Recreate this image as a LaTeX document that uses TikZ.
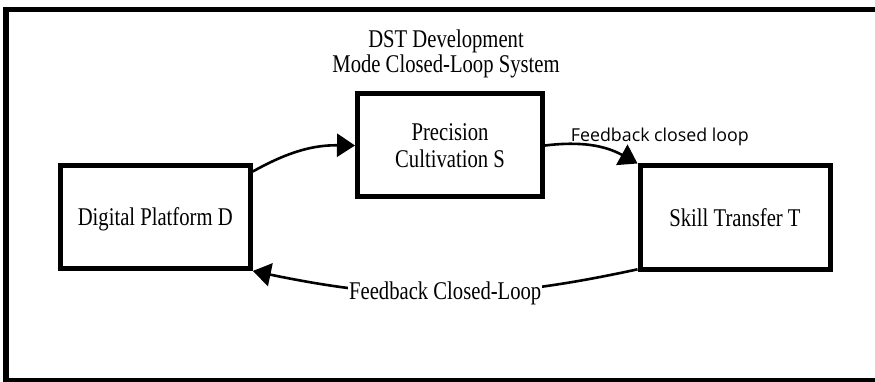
\documentclass[tikz,border=0pt]{standalone}
\usepackage{fontspec}
\setmainfont{Liberation Serif}[FakeStretch=0.81]
\newfontfamily\labelsans{Open Sans}
\usetikzlibrary{arrows.meta}
\tikzset{node distance=2.5cm, auto,
  block/.style={draw, line width=5pt, minimum width=190pt, minimum height=103pt,
    align=center, text depth=0pt, inner sep=0pt, font=\fontsize{25.5}{26.5}\selectfont},
  fbarrow/.style={line width=2.6pt, -{Triangle[length=18pt,width=23pt]}}}

\begin{document}
\begin{tikzpicture}[x=1pt, y=-1pt]
                \useasboundingbox (0,0) rectangle (875,382);
                \clip (0,0) rectangle (875,382);
                \draw[line width=5.5pt] (6,9.7) rectangle (880,380.5);
                \node (title) at (446,54) [align=center, inner sep=0pt,
                  font=\fontsize{25.5}{25}\selectfont] {DST Development\\Mode Closed-Loop System};
                \node[block] (D) at (155.25,217) {Digital Platform D};
                \node[block, minimum width=185pt] (S) at (450,145.5) {Precision\\Cultivation S};
                \node[block] (T) at (735,217.5) {Skill Transfer T};
                \draw[fbarrow] (D.25) to[bend left=15] (S.west);
                \draw[fbarrow] (S.east) to[bend left=18] (T.north west);
                \draw[fbarrow] (T.208) to[bend left=12] node[auto=false, fill=white, inner sep=1pt,
                  font=\fontsize{25.5}{26}\selectfont] {Feedback Closed-Loop} (D.south east);
                \node (fbl) at (570.7,141.7) [anchor=base west, inner sep=0pt,
                  font=\labelsans\fontsize{17.8}{20}\selectfont] {Feedback closed loop};
              \end{tikzpicture}
\end{document}
